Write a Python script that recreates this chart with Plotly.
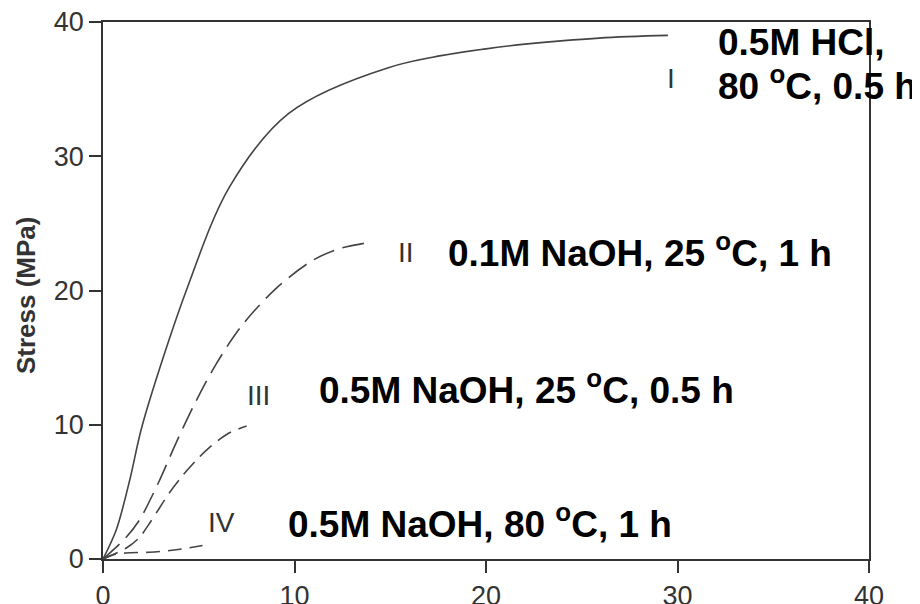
import plotly.graph_objects as go

# Curve data (strain vs stress)
x_I = [0, 0.7, 1.4, 2.06, 4.35, 6.6, 9.7, 14.9, 20.0, 25.9, 29.5]
y_I = [0, 2.2, 5.9, 10.0, 20.0, 27.7, 33.2, 36.6, 38.0, 38.8, 39.0]

x_II = [0, 1.2, 1.9, 2.9, 3.8, 4.8, 5.9, 7.2, 9.0, 10.9, 12.3, 14.0]
y_II = [0, 1.6, 2.9, 5.7, 8.6, 11.6, 14.5, 17.3, 20.1, 22.2, 23.1, 23.6]

x_III = [0, 1.2, 1.9, 2.4, 2.95, 3.45, 4.15, 4.9, 5.55, 6.6, 7.5]
y_III = [0, 0.8, 1.6, 2.6, 3.8, 4.9, 6.2, 7.4, 8.3, 9.4, 9.9]

x_IV = [0, 0.5, 1.2, 2.4, 3.6, 5.2]
y_IV = [0, 0.3, 0.45, 0.5, 0.65, 1.0]

x_ticks = [0, 10, 20, 30, 40]
y_ticks = [0, 10, 20, 30, 40]
y_title = "Stress (MPa)"

roman_labels = ["I", "II", "III", "IV"]
roman_x = [29.66, 15.83, 8.1, 6.2]
roman_y = [35.8, 22.8, 12.2, 2.75]

cond_labels = ["0.5M HCl,", "80 <sup>o</sup>C, 0.5 h",
               "0.1M NaOH, 25 <sup>o</sup>C, 1 h",
               "0.5M NaOH, 25 <sup>o</sup>C, 0.5 h",
               "0.5M NaOH, 80 <sup>o</sup>C, 1 h"]
cond_x = [32.0, 32.0, 17.9, 11.17, 9.56]
cond_y = [38.5, 35.4, 23.0, 12.8, 2.79]

LINE = "#444444"
FONT = "Arial, Liberation Sans, sans-serif"

fig = go.Figure()
series = [
    (x_I, y_I, "solid"),
    (x_II, y_II, "22px,9px"),
    (x_III, y_III, "16px,8px"),
    (x_IV, y_IV, "14px,8px"),
]
for xs, ys, dash in series:
    fig.add_trace(go.Scatter(
        x=xs, y=ys, mode="lines",
        line=dict(color=LINE, width=1.6, dash=dash, shape="spline", smoothing=0.9),
        showlegend=False, hoverinfo="skip",
    ))

for t, xv, yv in zip(roman_labels, roman_x, roman_y):
    fig.add_annotation(x=xv, y=yv, xref="x", yref="y", text=t, showarrow=False,
                       xanchor="center", yanchor="middle",
                       font=dict(family=FONT, size=28, color="#333333"))

for t, xv, yv in zip(cond_labels, cond_x, cond_y):
    fig.add_annotation(x=xv, y=yv, xref="x", yref="y", text="<b>" + t + "</b>",
                       showarrow=False, xanchor="left", yanchor="middle",
                       font=dict(family=FONT, size=37, color="#000000"))

# y-axis title placed as rotated text left of the tick labels
fig.add_annotation(x=-0.1005, y=0.4916, xref="paper", yref="paper",
                   text="<b>" + y_title + "</b>", showarrow=False, textangle=-90,
                   xanchor="center", yanchor="middle",
                   font=dict(family=FONT, size=26, color="#333333"))

axis_common = dict(
    range=[0, 40], showgrid=False, zeroline=False, automargin=False,
    showline=True, linecolor="#333333", linewidth=1.6, mirror=True,
    ticks="outside", ticklen=12, tickwidth=1.6, tickcolor="#333333",
    ticklabeloverflow="allow",
    tickfont=dict(family=FONT, size=27, color="#333333"),
)

fig.update_xaxes(tickvals=x_ticks, ticktext=[str(v) for v in x_ticks], **axis_common)
fig.update_yaxes(tickvals=y_ticks, ticktext=[str(v) for v in y_ticks], **axis_common)

fig.update_layout(
    width=920, height=604,
    margin=dict(l=95, r=59, t=14, b=53),
    plot_bgcolor="white", paper_bgcolor="white",
)

fig.write_html("out.html")
